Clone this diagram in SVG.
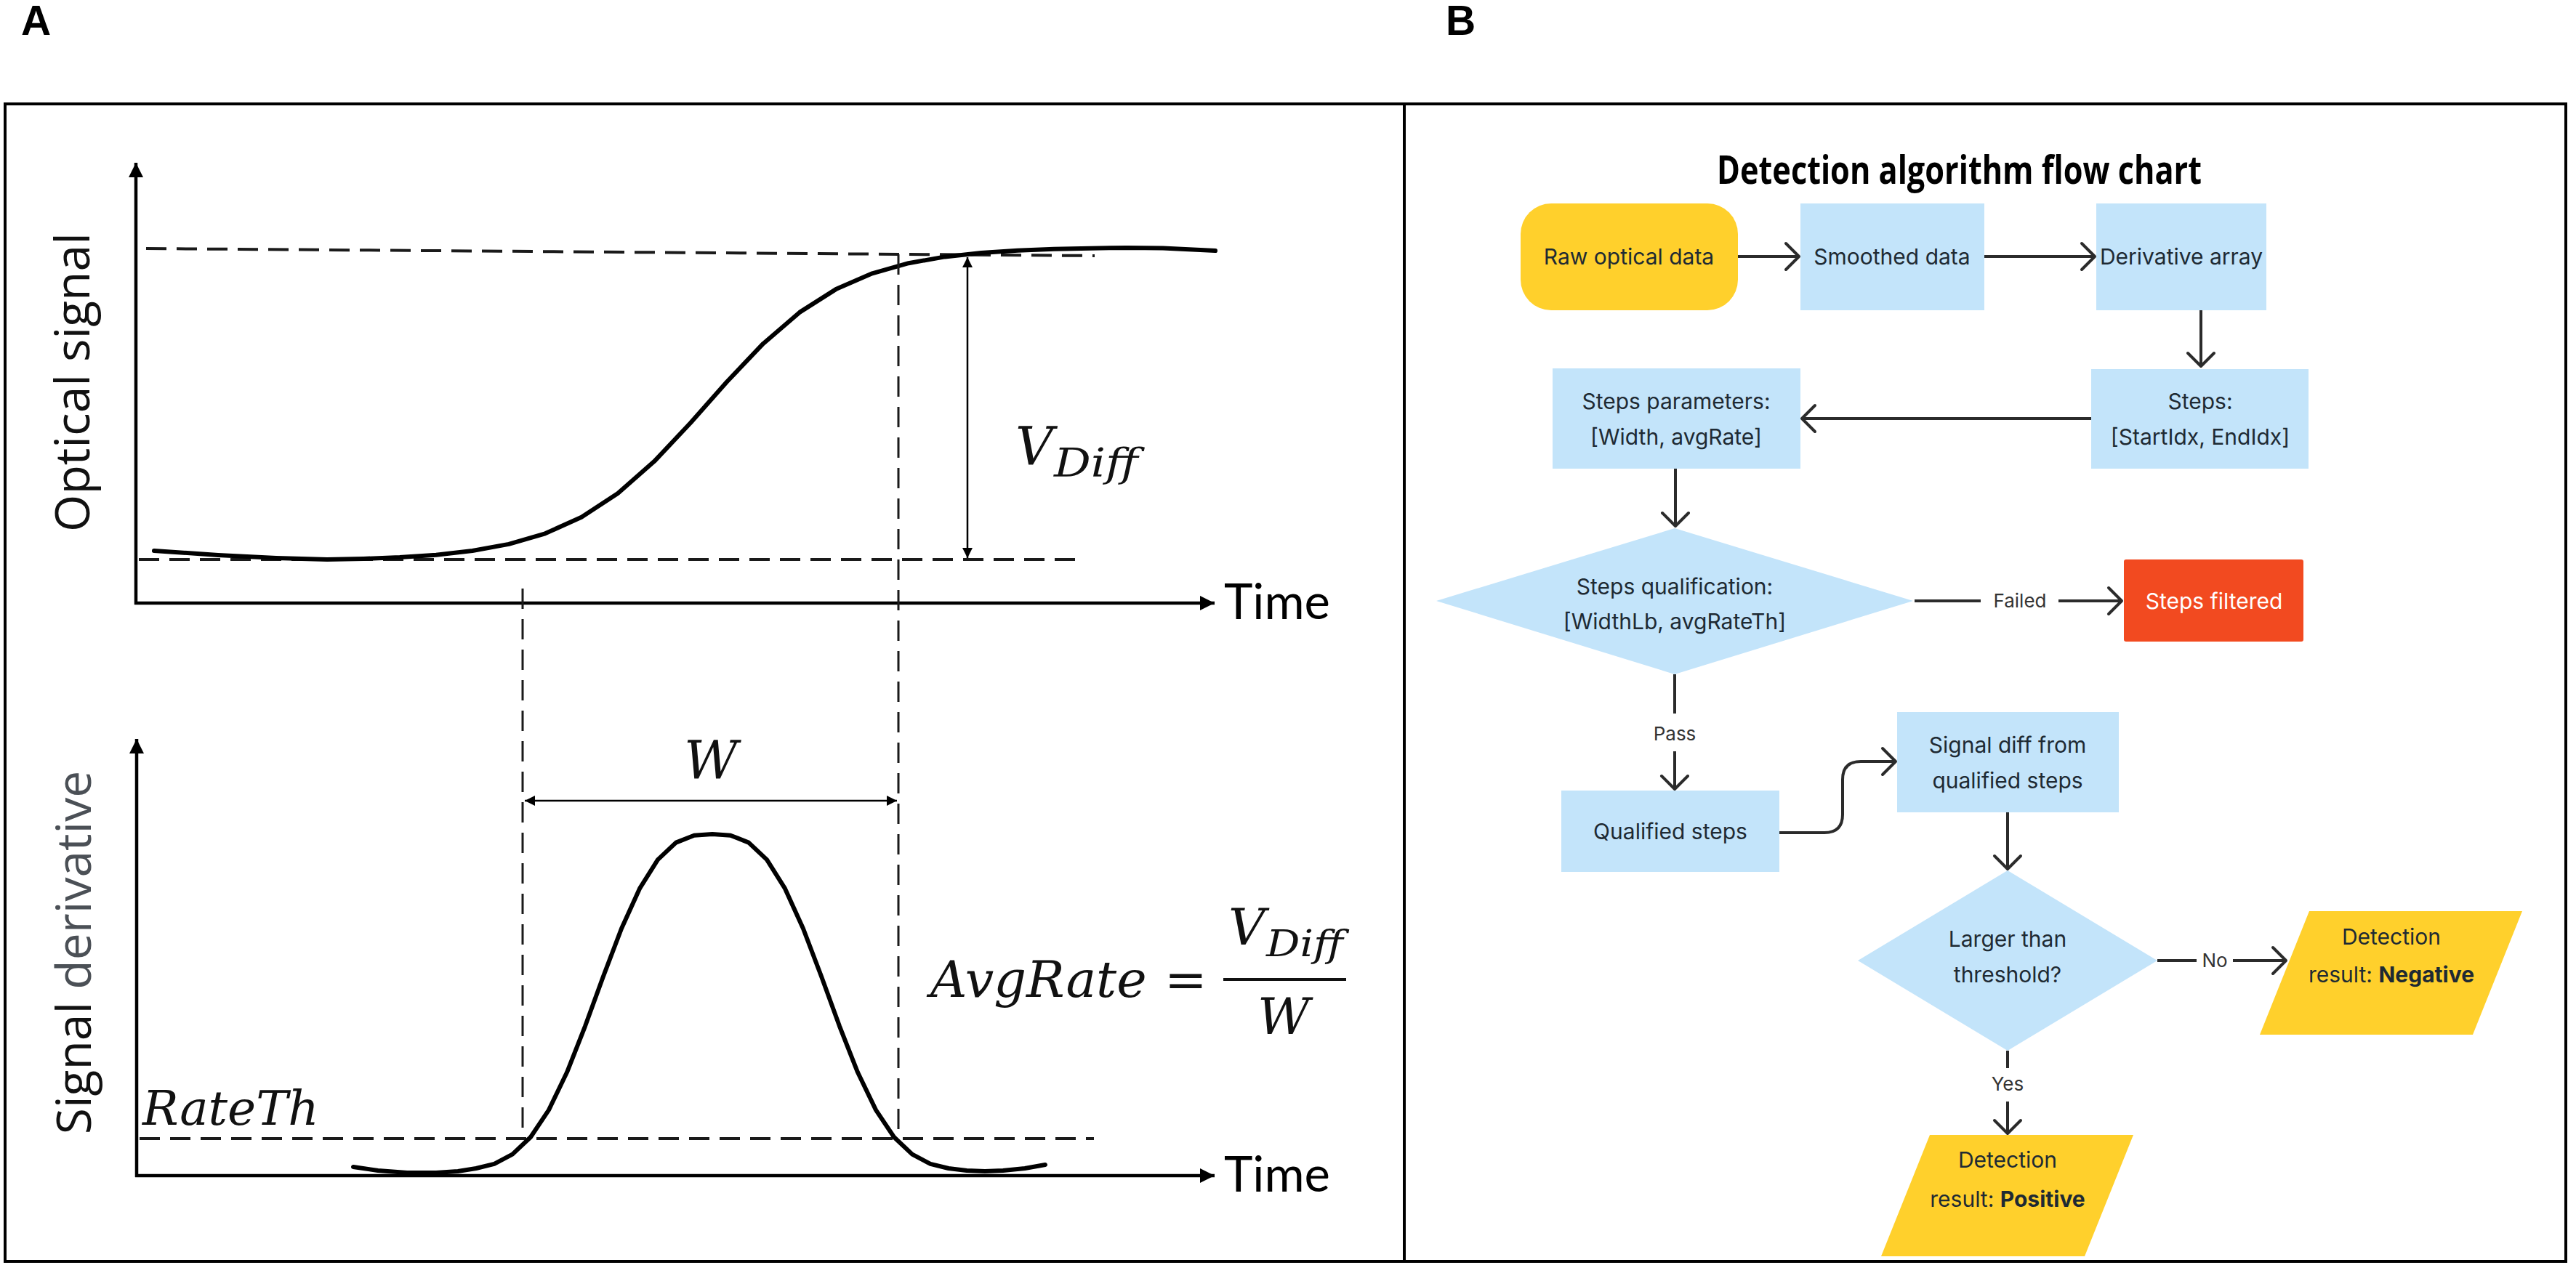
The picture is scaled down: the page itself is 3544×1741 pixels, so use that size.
<svg xmlns="http://www.w3.org/2000/svg" width="3544" height="1741" viewBox="0 0 3544 1741">
<style>
.lbl{font-family:"Liberation Sans",Arial,sans-serif;font-weight:bold;font-size:57px;fill:#000}
.axis{stroke:#000;stroke-width:4.5;fill:none}
.curve{stroke:#000;stroke-width:6;fill:none;stroke-linejoin:round;stroke-linecap:round}
.dash{stroke:#1a1a1a;stroke-width:4;stroke-dasharray:28 14;fill:none}
.vdash{stroke:#1a1a1a;stroke-width:3;stroke-dasharray:28 14;fill:none}
.thin{stroke:#000;stroke-width:2.5;fill:none}
.ax-t{font-family:"Open Sans","DejaVu Sans",sans-serif;font-size:66px;fill:#111}
.time{font-family:Lato,"Open Sans",sans-serif;font-size:67px;fill:#000}
.math{font-family:"DejaVu Serif","Liberation Serif",serif;font-style:italic;fill:#111}
.title{font-family:"Open Sans","Noto Sans",sans-serif;font-weight:bold;font-size:54px;fill:#000}
.nt{font-family:Inter,"Noto Sans",sans-serif;font-size:30px;fill:#1e2a33;text-anchor:middle}
.el{font-family:Inter,"Noto Sans",sans-serif;font-size:26px;fill:#333;text-anchor:middle}
.blue{fill:#c3e4fa}
.yel{fill:#ffd02c}
.red{fill:#f24a20}
.conn{stroke:#2b2b2b;stroke-width:4;fill:none}
</style>
<defs>
<marker id="tri" viewBox="0 0 10 10" refX="10" refY="5" markerUnits="userSpaceOnUse" markerWidth="22" markerHeight="20" orient="auto-start-reverse">
<path d="M0,0 L10,5 L0,10 Z" fill="#000"/>
</marker>
<marker id="tris" viewBox="0 0 10 10" refX="10" refY="5" markerUnits="userSpaceOnUse" markerWidth="20" markerHeight="14" orient="auto-start-reverse">
<path d="M0,0 L10,5 L0,10 Z" fill="#000"/>
</marker>
<marker id="chev" viewBox="0 0 22 40" refX="20" refY="20" markerUnits="userSpaceOnUse" markerWidth="22" markerHeight="40" orient="auto" overflow="visible">
<path d="M2,2 L20,20 L2,38" fill="none" stroke="#2b2b2b" stroke-width="4" stroke-linecap="round" stroke-linejoin="round"/>
</marker>
</defs>
<rect x="0" y="0" width="3544" height="1741" fill="#fff"/>

<!-- panel labels and frame -->
<text class="lbl" x="29" y="48">A</text>
<text class="lbl" x="1989" y="48">B</text>
<rect x="7" y="143" width="3523" height="1593" fill="none" stroke="#000" stroke-width="4"/>
<line x1="1932" y1="143" x2="1932" y2="1736" stroke="#000" stroke-width="4"/>

<!-- Panel A: top chart -->
<g id="chart-top">
<line class="axis" x1="187" y1="832" x2="187" y2="224" marker-end="url(#tri)"/>
<line class="axis" x1="185" y1="830" x2="1671" y2="830" marker-end="url(#tri)"/>
<text class="time" x="1684" y="852">Time</text>
<text class="ax-t" transform="translate(123,526) rotate(-90)" text-anchor="middle">Optical signal</text>
<line class="dash" x1="201" y1="342" x2="1506" y2="352"/>
<line class="dash" x1="191" y1="770" x2="1481" y2="770"/>
<polyline class="curve" points="212,758 300,764 380,768 450,770 500,769 550,767 600,763.7 650,758 700,748.9 750,734.3 800,711.8 850,679.1 900,635.1 950,582 1000,525.5 1050,472.9 1100,429.9 1150,398.1 1200,376.3 1250,362.2 1300,353.4 1350,348 1400,344.8 1450,342.8 1500,341.7 1550,341 1600,341.6 1672,345"/>
<line class="thin" x1="1331" y1="354" x2="1331" y2="768" marker-start="url(#tris)" marker-end="url(#tris)"/>
<text class="math" x="1397" y="640" font-size="72">V</text>
<text class="math" x="1450" y="656" font-size="55" textLength="116" lengthAdjust="spacingAndGlyphs">Diff</text>
</g>

<!-- vertical guides -->
<g id="guides">
<line class="vdash" x1="719" y1="810" x2="719" y2="1567"/>
<line class="vdash" x1="1236" y1="350" x2="1236" y2="1567"/>
</g>

<!-- Panel A: bottom chart -->
<g id="chart-bottom">
<line class="axis" x1="188" y1="1620" x2="188" y2="1017" marker-end="url(#tri)"/>
<line class="axis" x1="186" y1="1618" x2="1671" y2="1618" marker-end="url(#tri)"/>
<text class="time" x="1684" y="1640">Time</text>
<text class="ax-t" transform="translate(125,1311) rotate(-90)" text-anchor="middle" font-size="78"><tspan fill="#111">Signal </tspan><tspan fill="#4b5056">derivative</tspan></text>
<line class="dash" x1="192" y1="1567" x2="1505" y2="1567"/>
<text class="math" x="196" y="1548" font-size="66">RateTh</text>
<polyline class="curve" stroke-width="5" points="486,1606 520,1611 560,1614 600,1614 630,1612 655,1608 680,1601.8 705,1588.6 730,1565 755,1527.6 780,1475.8 805,1412.3 830,1343.7 855,1278 880,1222.9 905,1183.1 930,1159.6 955,1149.7 980,1148 1005,1149.7 1030,1159.6 1055,1183.1 1080,1222.9 1105,1278 1130,1343.7 1155,1412.3 1180,1475.8 1205,1527.6 1230,1565 1255,1588.6 1280,1601.8 1305,1608 1330,1611 1355,1612 1380,1611 1410,1608 1438,1603"/>
<line class="thin" x1="722" y1="1102" x2="1234" y2="1102" marker-start="url(#tris)" marker-end="url(#tris)"/>
<text class="math" x="978" y="1072" font-size="72" text-anchor="middle">W</text>
<text class="math" x="1280" y="1372" font-size="70">AvgRate</text>
<text x="1602" y="1372" font-family="DejaVu Serif,serif" font-size="70" fill="#111">=</text>
<line x1="1683" y1="1348" x2="1852" y2="1348" stroke="#111" stroke-width="4"/>
<text class="math" x="1690" y="1300" font-size="70">V</text>
<text class="math" x="1742" y="1316" font-size="50" textLength="106" lengthAdjust="spacingAndGlyphs">Diff</text>
<text class="math" x="1766" y="1423" font-size="70" text-anchor="middle">W</text>
</g>

<!-- Panel B -->
<text class="title" x="2362" y="253" textLength="667" lengthAdjust="spacingAndGlyphs">Detection algorithm flow chart</text>

<g id="n-raw"><rect class="yel" x="2092" y="280" width="299" height="147" rx="42"/><text class="nt" x="2241" y="364">Raw optical data</text></g>
<g id="n-smooth"><rect class="blue" x="2477" y="280" width="253" height="147"/><text class="nt" x="2603" y="364">Smoothed data</text></g>
<g id="n-deriv"><rect class="blue" x="2884" y="280" width="234" height="147"/><text class="nt" x="3001" y="364">Derivative array</text></g>
<g id="n-steps"><rect class="blue" x="2877" y="508" width="299" height="137"/><text class="nt" x="3027" y="563">Steps:</text><text class="nt" x="3027" y="612">[StartIdx, EndIdx]</text></g>
<g id="n-params"><rect class="blue" x="2136" y="507" width="341" height="138"/><text class="nt" x="2306" y="563">Steps parameters:</text><text class="nt" x="2306" y="612">[Width, avgRate]</text></g>
<g id="n-qual"><polygon class="blue" points="1976,827 2304,727 2632,827 2304,928"/><text class="nt" x="2304" y="818">Steps qualification:</text><text class="nt" x="2304" y="866">[WidthLb, avgRateTh]</text></g>
<g id="n-filtered"><rect class="red" x="2922" y="770" width="247" height="113" rx="3"/><text class="nt" x="3046" y="838" style="fill:#fff">Steps filtered</text></g>
<g id="n-qsteps"><rect class="blue" x="2148" y="1088" width="300" height="112"/><text class="nt" x="2298" y="1155">Qualified steps</text></g>
<g id="n-sdiff"><rect class="blue" x="2610" y="980" width="305" height="138"/><text class="nt" x="2762" y="1036">Signal diff from</text><text class="nt" x="2762" y="1085">qualified steps</text></g>
<g id="n-thresh"><polygon class="blue" points="2556,1322 2762,1198 2968,1322 2762,1446"/><text class="nt" x="2762" y="1303">Larger than</text><text class="nt" x="2762" y="1352">threshold?</text></g>
<g id="n-neg"><polygon class="yel" points="3177,1254 3470,1254 3402,1424 3109,1424"/><text class="nt" x="3290" y="1300">Detection</text><text class="nt" x="3290" y="1352">result: <tspan font-weight="bold">Negative</tspan></text></g>
<g id="n-pos"><polygon class="yel" points="2655,1562 2935,1562 2868,1729 2588,1729"/><text class="nt" x="2762" y="1607">Detection</text><text class="nt" x="2762" y="1661">result: <tspan font-weight="bold">Positive</tspan></text></g>

<g id="connectors">
<line class="conn" x1="2391" y1="353" x2="2475" y2="353" marker-end="url(#chev)"/>
<line class="conn" x1="2730" y1="353" x2="2882" y2="353" marker-end="url(#chev)"/>
<line class="conn" x1="3028" y1="427" x2="3028" y2="504" marker-end="url(#chev)"/>
<line class="conn" x1="2877" y1="576" x2="2479" y2="576" marker-end="url(#chev)"/>
<line class="conn" x1="2305" y1="645" x2="2305" y2="724" marker-end="url(#chev)"/>
<line class="conn" x1="2634" y1="827" x2="2725" y2="827"/>
<text class="el" x="2779" y="836">Failed</text>
<line class="conn" x1="2832" y1="827" x2="2919" y2="827" marker-end="url(#chev)"/>
<line class="conn" x1="2304" y1="928" x2="2304" y2="982"/>
<text class="el" x="2304" y="1019">Pass</text>
<line class="conn" x1="2304" y1="1034" x2="2304" y2="1086" marker-end="url(#chev)"/>
<path class="conn" d="M2448,1146 L2510,1146 Q2535,1146 2535,1121 L2535,1073 Q2535,1048 2560,1048 L2608,1048" marker-end="url(#chev)"/>
<line class="conn" x1="2762" y1="1118" x2="2762" y2="1196" marker-end="url(#chev)"/>
<line class="conn" x1="2968" y1="1322" x2="3022" y2="1322"/>
<text class="el" x="3047" y="1331">No</text>
<line class="conn" x1="3072" y1="1322" x2="3145" y2="1322" marker-end="url(#chev)"/>
<line class="conn" x1="2762" y1="1446" x2="2762" y2="1470"/>
<text class="el" x="2762" y="1501">Yes</text>
<line class="conn" x1="2762" y1="1516" x2="2762" y2="1560" marker-end="url(#chev)"/>
</g>
</svg>
